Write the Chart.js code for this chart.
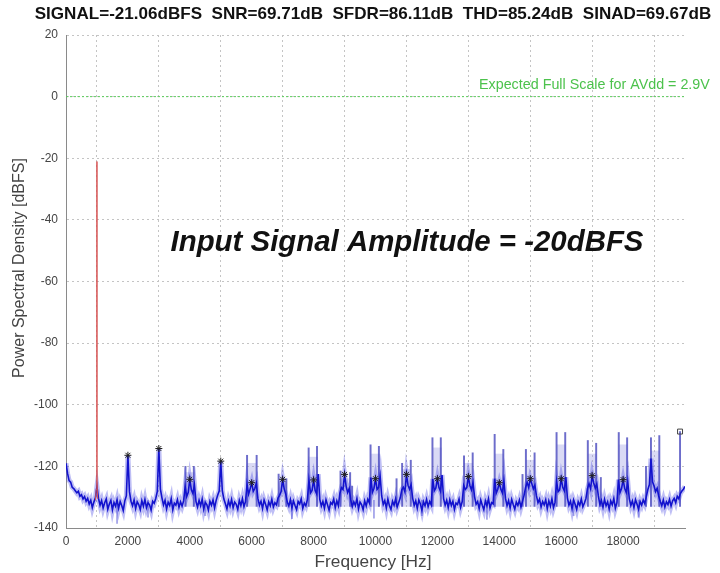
<!DOCTYPE html>
<html>
<head>
<meta charset="utf-8">
<script src="https://cdn.jsdelivr.net/npm/chart.js@4"></script>
<style>
  html, body { margin: 0; padding: 0; background: #fff; }
  #wrap { width: 720px; height: 573px; }
</style>
</head>
<body>
<div id="wrap"><canvas id="psdChart" width="720" height="573"></canvas></div>
<script>
// Spectrum data (dBFS), one value per 50 Hz bin, 0..20000 Hz
const binHz = 50;
const noiseDb = [
  -119.0,-122.3,-124.6,-125.1,-126.8,-127.2,-127.9,-128.6,-128.1,-129.7,-129.2,-130.6,-129.8,-131.3,-130.4,-132.2,-131.0,-133.4,-131.6,-130.2,
  -126.5,-130.4,-132.6,-131.1,-133.5,-131.8,-130.6,-133.9,-132.2,-131.0,-134.1,-131.7,-132.9,-130.8,-133.6,-131.4,-132.7,-134.3,-131.2,-129.6,
  -116.4,-128.2,-131.3,-132.8,-130.9,-133.7,-131.5,-132.4,-134.0,-131.1,-132.9,-130.7,-133.4,-131.8,-132.5,-134.2,-131.3,-132.0,-130.4,-128.1,
  -114.2,-127.4,-130.2,-132.5,-131.0,-133.8,-131.6,-132.7,-130.5,-134.1,-131.9,-132.6,-130.8,-133.3,-131.5,-132.9,-131.2,-126.5,-129.8,-128.4,
  -124.2,-127.6,-128.8,-126.0,-131.4,-133.2,-131.0,-132.8,-130.6,-133.9,-131.7,-132.4,-134.2,-131.3,-132.6,-130.9,-133.5,-131.1,-129.4,-128.0,
  -118.3,-127.9,-130.6,-132.1,-133.8,-131.2,-132.9,-130.7,-133.4,-131.6,-132.3,-134.0,-131.0,-132.7,-130.5,-133.1,-131.4,-125.8,-129.0,-127.3,
  -125.3,-128.1,-127.2,-125.5,-130.4,-132.6,-131.3,-133.7,-130.9,-132.4,-134.1,-131.5,-132.8,-130.6,-133.2,-131.8,-132.5,-130.3,-129.4,-128.2,
  -124.2,-127.3,-129.0,-131.6,-132.9,-130.8,-133.5,-131.2,-132.7,-134.0,-131.4,-132.2,-130.5,-133.6,-131.9,-132.8,-130.7,-124.5,-128.6,-127.8,
  -124.4,-127.8,-128.9,-122.5,-130.7,-132.9,-131.4,-133.6,-130.8,-132.5,-134.2,-131.7,-132.3,-130.6,-133.4,-131.2,-132.8,-128.7,-126.9,-127.5,
  -122.6,-126.4,-128.5,-127.2,-130.9,-133.1,-131.5,-132.7,-130.4,-133.8,-131.6,-132.4,-134.1,-131.2,-132.9,-130.7,-131.8,-123.6,-128.4,-127.1,
  -124.0,-127.5,-126.8,-123.2,-129.6,-132.4,-131.1,-133.5,-130.6,-132.8,-134.0,-131.3,-132.6,-130.5,-133.2,-131.7,-130.2,-127.6,-126.8,-128.3,
  -122.6,-126.1,-127.4,-125.9,-130.3,-132.7,-131.2,-133.6,-130.9,-132.2,-134.3,-131.5,-132.8,-130.7,-133.1,-131.4,-132.5,-124.1,-127.9,-127.0,
  -124.0,-126.9,-128.1,-122.8,-130.5,-132.6,-131.0,-133.4,-130.8,-132.7,-131.3,-134.0,-131.9,-132.4,-130.6,-133.3,-131.5,-126.2,-127.5,-126.9,
  -123.3,-126.2,-127.6,-125.3,-129.8,-132.3,-131.4,-133.7,-130.9,-132.6,-134.1,-131.2,-132.8,-130.5,-133.5,-131.8,-132.2,-124.0,-128.7,-127.4,
  -125.3,-127.4,-128.6,-124.7,-130.4,-132.8,-131.1,-133.5,-130.7,-132.4,-133.9,-131.6,-132.7,-130.9,-133.2,-131.3,-129.4,-126.8,-125.2,-126.9,
  -124.0,-125.6,-127.3,-126.1,-129.5,-131.8,-130.6,-133.2,-131.4,-132.5,-130.8,-133.7,-131.2,-132.9,-130.5,-133.4,-131.7,-124.9,-128.2,-127.6,
  -124.0,-126.8,-127.9,-123.5,-130.2,-132.6,-131.3,-133.8,-130.9,-132.3,-134.0,-131.5,-132.7,-130.6,-133.1,-131.9,-130.4,-127.2,-125.6,-127.3,
  -123.0,-125.4,-127.1,-125.7,-129.6,-132.4,-131.0,-133.3,-130.7,-132.8,-131.5,-133.9,-131.2,-132.5,-130.4,-133.6,-131.8,-124.3,-128.5,-127.2,
  -124.3,-127.1,-128.4,-124.9,-130.5,-132.7,-131.2,-133.4,-130.8,-132.3,-133.9,-131.4,-132.6,-130.9,-132.1,-129.8,-127.5,-125.9,-117.5,-125.0,
  -126.4,-128.2,-127.1,-129.6,-131.3,-132.8,-130.9,-133.2,-131.5,-132.4,-130.7,-132.9,-131.2,-130.4,-131.8,-129.7,-130.5,-128.8,-128.0,-127.4,
  -126.5
];

// Fundamental tone (red)
const fundFreq = [950, 975, 1000, 1000, 1000, 1025];
const fundDb = [-131.0, -127.5, -125.0, -21.06, -125.0, -130.5];

// Harmonic markers
const harmFreq = [2000, 3000, 4000, 5000, 6000, 7000, 8000, 9000, 10000, 11000, 12000, 13000, 14000, 15000, 16000, 17000, 18000];
const harmDb = [-116.4, -114.2, -124.2, -118.3, -125.3, -124.2, -124.4, -122.6, -124.0, -122.6, -124.0, -123.3, -125.3, -124.0, -124.0, -123.0, -124.3];
const lastFreq = [19840];
const lastDb = [-108.7];

// Spur lines (max-hold) rising from the floor
const spurBase = -133;
const spurFreq = [3860, 4130, 5850, 6160, 6870, 7120, 7840, 8110, 8870, 9180, 9840, 10110, 10860, 11140, 11840, 12110,
  12860, 13140, 13850, 14130, 14860, 15140, 15850, 16130, 16860, 17130, 17860, 18130, 18740, 18900, 19170, 19840,
  9245, 10680, 14750, 17280];
const spurTop = [-120.0, -120.0, -116.4, -116.4, -122.5, -124.0, -114.0, -113.5, -121.5, -122.0, -113.0, -113.5, -119.0, -118.0, -110.7, -110.7,
  -116.6, -115.6, -109.6, -114.5, -114.5, -115.6, -109.0, -109.0, -111.6, -112.5, -109.0, -110.7, -120.0, -110.7, -110.0, -108.7,
  -126.4, -124.0, -122.6, -123.6];

// Light shading between spur pairs
const shadeFreq = [4000, 6000, 7000, 8000, 9000, 10000, 11000, 12000, 13000, 14000, 15000, 16000, 17000, 18000, 19035];
const shadeTop = [-122, -119, -125, -117, -124, -116, -121, -114, -119, -116, -118, -113, -116, -113, -115];

// Downward excursions of the noise
const dipBase = -131;
const dipFreq = [1650, 2650, 4500, 7300, 9950, 11500, 13600, 16400, 18500];
const dipDb = [-138.5, -136.5, -136.0, -137.0, -136.8, -136.0, -137.2, -136.0, -136.5];

const yTicks = [20, 0, -20, -40, -60, -80, -100, -120, -140];
const xTicks = [0, 2000, 4000, 6000, 8000, 10000, 12000, 14000, 16000, 18000];

const titleText = 'SIGNAL=-21.06dBFS  SNR=69.71dB  SFDR=86.11dB  THD=85.24dB  SINAD=69.67dB';
const noteText = 'Input Signal Amplitude = -20dBFS';
const fullScaleText = 'Expected Full Scale for AVdd = 2.9V';
const yTitle = 'Power Spectral Density [dBFS]';
const xTitle = 'Frequency [Hz]';

const FAMILY = '"Liberation Sans", Arial, sans-serif';
Chart.defaults.font.family = FAMILY;

const zip = (xs, ys) => xs.map((x, i) => ({ x: x, y: ys[i] }));
const spectrum = noiseDb.map((v, i) => ({ x: i * binHz, y: v }));

// set font size so text spans given width
function fitFont(ctx, text, style, width) {
  ctx.font = style + ' 20px ' + FAMILY;
  const size = 20 * width / ctx.measureText(text).width;
  ctx.font = style + ' ' + size.toFixed(2) + 'px ' + FAMILY;
}

const textPlugin = {
  id: 'texts',
  beforeDraw(chart) {
    const ctx = chart.ctx;
    ctx.save();
    ctx.fillStyle = '#fff';
    ctx.fillRect(0, 0, chart.width, chart.height);
    ctx.restore();
  },
  afterDraw(chart) {
    const ctx = chart.ctx;
    ctx.save();
    ctx.textBaseline = 'middle';

    ctx.fillStyle = '#111';
    ctx.textAlign = 'center';
    fitFont(ctx, titleText, 'bold', 677);
    ctx.fillText(titleText, 373, 14);

    fitFont(ctx, noteText, 'italic bold', 473);
    ctx.fillText(noteText, 407, 243);

    ctx.fillStyle = '#4cc24c';
    ctx.textAlign = 'left';
    fitFont(ctx, fullScaleText, '', 231);
    ctx.fillText(fullScaleText, 479, 85);

    ctx.fillStyle = '#444';
    ctx.textAlign = 'center';
    fitFont(ctx, xTitle, '', 117);
    ctx.fillText(xTitle, 373, 562);

    ctx.translate(20, 268);
    ctx.rotate(-Math.PI / 2);
    fitFont(ctx, yTitle, '', 220);
    ctx.fillText(yTitle, 0, 0);
    ctx.restore();
  }
};

const gridColor = '#c4c4c4';

new Chart(document.getElementById('psdChart'), {
  type: 'line',
  data: {
    datasets: [
      {
        label: 'full scale',
        data: [{ x: 0, y: 0 }, { x: 20000, y: 0 }],
        borderColor: '#5ccf5c',
        borderWidth: 1,
        borderDash: [2, 2],
        pointRadius: 0,
        order: 8
      },
      {
        type: 'bar',
        label: 'shade',
        data: shadeFreq.map((f, i) => ({ x: f, y: [spurBase, shadeTop[i]] })),
        backgroundColor: 'rgba(150,150,225,0.35)',
        barThickness: 8,
        grouped: false,
        order: 7
      },
      {
        type: 'bar',
        label: 'spurs',
        data: spurFreq.map((f, i) => ({ x: f, y: [spurBase, spurTop[i]] })),
        backgroundColor: 'rgba(60,60,185,0.75)',
        barThickness: 1.3,
        grouped: false,
        order: 6
      },
      {
        type: 'bar',
        label: 'dips',
        data: dipFreq.map((f, i) => ({ x: f, y: [dipDb[i], dipBase] })),
        backgroundColor: 'rgba(110,110,220,0.6)',
        barThickness: 1.2,
        grouped: false,
        order: 5
      },
      {
        // soft halo under the trace so the noise reads as a band
        label: 'spectrum halo',
        data: spectrum,
        borderColor: 'rgba(70,70,225,0.35)',
        borderWidth: 5,
        pointRadius: 0,
        order: 4
      },
      {
        label: 'spectrum',
        data: spectrum,
        borderColor: 'rgb(18,18,205)',
        borderWidth: 1.6,
        pointRadius: 0,
        tension: 0,
        order: 3
      },
      {
        label: 'fundamental',
        data: zip(fundFreq, fundDb),
        borderColor: 'rgb(214,80,80)',
        borderWidth: 1,
        pointRadius: 0,
        order: 2
      },
      {
        label: 'harmonics',
        data: zip(harmFreq, harmDb),
        showLine: false,
        pointStyle: 'star',
        pointRadius: 3.5,
        borderColor: '#222',
        borderWidth: 1,
        order: 1
      },
      {
        label: 'last',
        data: zip(lastFreq, lastDb),
        showLine: false,
        pointStyle: 'rect',
        pointRadius: 3.5,
        backgroundColor: 'rgba(255,255,255,0)',
        borderColor: '#444',
        borderWidth: 1,
        order: 1
      }
    ]
  },
  options: {
    responsive: false,
    animation: false,
    events: [],
    layout: { padding: { top: 35, right: 35, left: 0, bottom: 0 } },
    plugins: {
      legend: { display: false },
      tooltip: { enabled: false },
      title: { display: false }
    },
    scales: {
      x: {
        type: 'linear',
        min: 0,
        max: 20000,
        offset: false,
        afterFit: (s) => { s.height = 45; },
        afterBuildTicks: (s) => { s.ticks = xTicks.map(v => ({ value: v })); },
        ticks: {
          callback: (v) => String(v),
          font: { size: 12 },
          color: '#444',
          padding: 6,
          maxRotation: 0,
          autoSkip: false
        },
        grid: { color: gridColor, drawTicks: false },
        border: { display: true, color: '#8a8a8a', width: 1, dash: [2, 3] }
      },
      y: {
        type: 'linear',
        min: -140,
        max: 20,
        afterFit: (s) => { s.width = 66; },
        afterBuildTicks: (s) => { s.ticks = yTicks.map(v => ({ value: v })); },
        ticks: {
          callback: (v) => String(v),
          font: { size: 12 },
          color: '#444',
          padding: 8
        },
        grid: { color: gridColor, drawTicks: false },
        border: { display: true, color: '#8a8a8a', width: 1, dash: [2, 3] }
      }
    }
  },
  plugins: [textPlugin]
});
</script>
</body>
</html>
